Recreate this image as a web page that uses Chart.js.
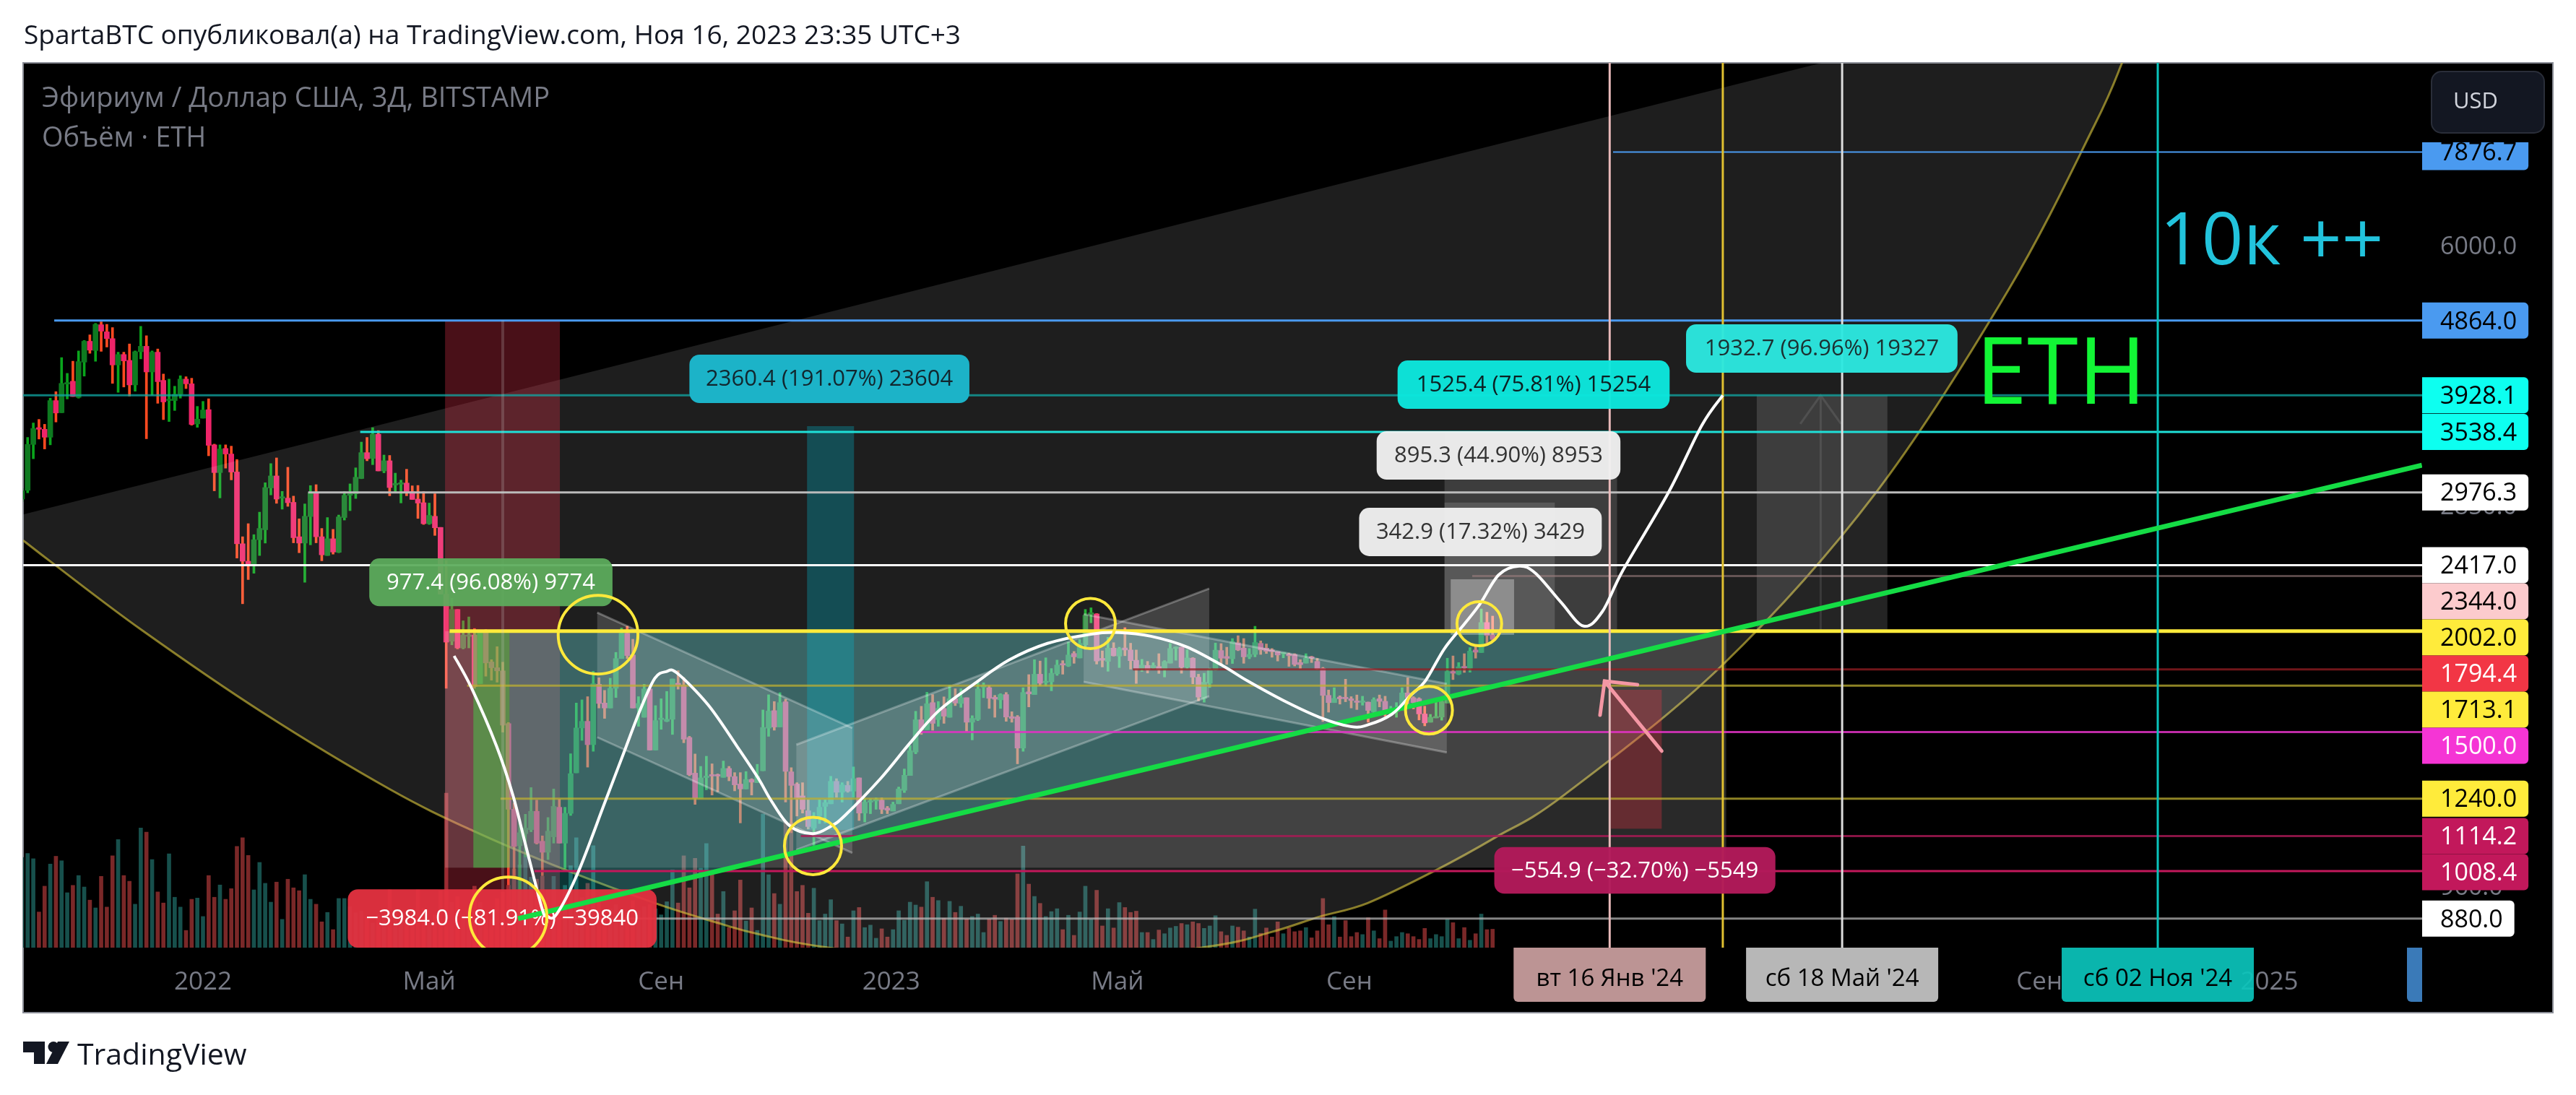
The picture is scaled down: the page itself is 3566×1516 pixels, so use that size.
<!DOCTYPE html>
<html><head><meta charset="utf-8"><title>ETH</title>
<style>html,body{margin:0;padding:0;background:#fff;overflow:hidden}canvas{display:block}</style>
<script src="https://cdn.jsdelivr.net/npm/chart.js@4"></script></head><body>
<canvas id="c" width="3566" height="1516"></canvas>
<script>
const firstBar = -32; // 3-day bars, 0 = bar at the 1 Jan 2022 tick
const candleOpen = [
2920,2994,3414,3582,3565,3485,3870,3738,4057,4090,
3905,4320,4585,4465,4807,4710,4620,4285,4415,4341,
4047,4450,4520,4200,4444,4100,3870,3870,3940,4115,
4060,3620,3680,3771,3410,3150,3375,3322,3155,2570,
2445,2425,2600,2675,3015,3120,2928,2928,2893,2622,
2575,2778,2976,2622,2485,2607,2508,2770,2952,2965,
3097,3335,3280,3515,3165,3258,3040,3047,3057,2983,
2920,2890,2722,2780,2693,2225,1945,2130,1908,1972,
1980,1723,1995,1833,1803,1787,1537,1203,1084,1122,
1135,1196,1098,1064,1112,1210,1092,1189,1335,1518,
1547,1447,1720,1630,1607,1700,1851,1990,1870,1607,
1565,1697,1425,1555,1547,1556,1725,1715,1477,1334,
1242,1317,1328,1328,1318,1352,1321,1293,1275,1310,
1298,1343,1517,1595,1522,1636,1339,1293,1250,1198,
1140,1181,1213,1222,1303,1263,1288,1267,1316,1190,
1228,1232,1235,1207,1197,1222,1270,1325,1417,1554,
1510,1632,1555,1605,1565,1650,1628,1655,1543,1555,
1706,1703,1657,1645,1670,1568,1567,1433,1683,1670,
1770,1728,1732,1772,1822,1812,1878,1854,1925,2100,
2103,1852,1836,1907,1864,1908,1897,1842,1798,1815,
1802,1809,1795,1827,1905,1912,1806,1853,1755,1652,
1725,1792,1894,1862,1850,1936,1907,1860,1873,1933,
1907,1897,1888,1876,1875,1873,1830,1827,1860,1836,
1800,1666,1632,1658,1657,1650,1638,1633,1634,1590,
1650,1638,1595,1590,1603,1678,1655,1650,1580,1543,
1562,1566,1630,1784,1770,1810,1800,1897,1883,2052,1980];
const candleHigh = [
3010,3483,3630,3667,3616,3897,3970,4376,4183,4331,
4460,4595,4670,4825,4847,4812,4768,4444,4444,4550,
4460,4785,4658,4460,4485,4175,4115,4032,4155,4143,
4125,3806,3861,3890,3417,3410,3410,3397,3270,2622,
2722,2638,2813,3060,3232,3285,2985,3198,2945,2760,
2880,3035,3043,2685,2770,2678,2790,2983,3050,3193,
3437,3483,3582,3552,3312,3308,3145,3083,3180,3033,
3036,2983,2887,2965,2693,2450,2199,2130,2062,2085,
2017,2006,2011,1845,1915,1832,1542,1225,1168,1186,
1280,1235,1115,1175,1275,1238,1210,1410,1630,1645,
1660,1785,1752,1690,1750,1884,2020,2030,1956,1660,
1720,1697,1618,1650,1685,1746,1788,1753,1482,1409,
1360,1400,1370,1331,1381,1360,1336,1336,1340,1313,
1368,1598,1669,1637,1679,1648,1355,1298,1298,1236,
1192,1236,1236,1322,1313,1298,1303,1358,1316,1240,
1240,1243,1243,1213,1228,1282,1350,1443,1592,1615,
1681,1670,1637,1659,1715,1698,1698,1655,1572,1733,
1727,1713,1666,1674,1680,1590,1573,1703,1768,1845,
1838,1855,1799,1843,1840,1940,1889,1955,2130,2140,
2105,1892,1967,1937,1912,2022,1934,1897,1847,1836,
1829,1877,1840,1933,1915,1912,1898,1856,1770,1775,
1801,1935,1932,1912,1960,1976,1960,1905,2030,1947,
1930,1905,1888,1884,1880,1877,1845,1877,1864,1852,
1805,1692,1703,1664,1745,1660,1668,1662,1635,1655,
1668,1662,1615,1632,1703,1752,1660,1655,1615,1578,
1635,1644,1853,1865,1830,1877,1910,1925,2133,2113,2090];
const candleLow = [
2900,2973,3277,3467,3370,3410,3640,3738,3888,3915,
3897,4150,4430,4330,4455,4510,4065,3962,4023,3920,
3975,4360,3470,3930,3840,3665,3645,3762,3897,4005,
3607,3585,3680,3305,2990,2930,3190,3085,2467,2165,
2320,2362,2485,2575,2955,2885,2837,2860,2577,2505,
2302,2562,2577,2448,2485,2495,2505,2750,2825,2925,
3095,3258,3222,3165,3148,2948,2983,2888,2948,2917,
2763,2716,2716,2632,2225,1700,1925,1903,1903,1908,
1700,1723,1760,1740,1730,1500,969,990,880,1050,
1128,1089,995,1042,1092,1092,1015,1182,1335,1465,
1357,1420,1607,1560,1607,1656,1851,1851,1607,1525,
1565,1425,1425,1512,1545,1490,1696,1455,1324,1220,
1242,1272,1253,1265,1318,1305,1268,1157,1275,1253,
1298,1343,1482,1508,1522,1228,1125,1180,1190,1137,
1085,1155,1157,1222,1245,1228,1263,1245,1165,1160,
1188,1203,1188,1188,1197,1222,1262,1325,1410,1490,
1510,1508,1525,1538,1565,1618,1610,1503,1467,1550,
1655,1605,1565,1605,1547,1543,1370,1420,1612,1670,
1712,1712,1688,1764,1770,1809,1826,1854,1900,2050,
1822,1807,1785,1864,1804,1866,1796,1724,1784,1776,
1799,1774,1756,1827,1842,1775,1797,1722,1640,1634,
1704,1790,1825,1820,1825,1893,1826,1850,1860,1873,
1878,1858,1838,1855,1810,1812,1798,1827,1830,1794,
1546,1588,1632,1625,1636,1607,1600,1620,1543,1580,
1612,1570,1580,1565,1597,1626,1603,1553,1527,1543,
1562,1552,1630,1743,1767,1779,1780,1853,1883,1936,1945];
const candleClose = [
2990,3414,3573,3565,3485,3870,3735,4065,4075,3915,
4326,4585,4470,4812,4720,4620,4285,4415,4335,4047,
4450,4520,4200,4444,4085,3855,3885,3940,4115,4060,
3615,3670,3767,3405,3150,3370,3322,3155,2570,2445,
2425,2600,2685,3018,3120,2920,2935,2890,2615,2575,
2780,2976,2622,2490,2607,2510,2775,2952,2960,3108,
3335,3277,3515,3165,3258,3018,3054,3060,2983,2917,
2887,2722,2787,2690,2225,1940,2130,1908,1980,1980,
1708,1995,1828,1803,1787,1530,1203,1082,1125,1140,
1196,1092,1064,1130,1213,1092,1189,1332,1518,1547,
1447,1723,1628,1607,1700,1851,1990,1867,1607,1628,
1697,1425,1550,1560,1556,1746,1715,1470,1328,1242,
1316,1323,1323,1323,1352,1321,1290,1275,1310,1300,
1323,1520,1593,1522,1632,1341,1288,1240,1203,1145,
1170,1210,1226,1303,1263,1290,1267,1313,1190,1228,
1231,1237,1203,1200,1220,1275,1326,1422,1554,1510,
1627,1538,1605,1570,1650,1630,1655,1543,1560,1697,
1714,1652,1648,1670,1566,1560,1433,1680,1673,1770,
1725,1733,1775,1817,1817,1870,1860,1933,2095,2110,
1838,1842,1907,1866,1905,1897,1840,1796,1817,1792,
1815,1795,1835,1905,1912,1806,1854,1755,1658,1730,
1794,1896,1853,1852,1942,1897,1860,1873,1938,1897,
1890,1888,1870,1882,1866,1820,1819,1853,1853,1797,
1666,1632,1652,1650,1650,1642,1633,1640,1596,1646,
1638,1596,1601,1603,1678,1655,1632,1580,1540,1565,
1566,1637,1784,1775,1808,1802,1891,1885,2052,1977,1955];
const volumeK = [
220,230,217,87,150,204,223,212,134,152,
176,148,116,97,174,99,224,264,176,162,
106,292,282,215,136,109,229,123,99,42,
118,121,76,176,123,153,118,144,247,268,
225,141,208,157,111,160,69,167,146,139,
178,118,106,63,86,44,120,120,100,85,
90,75,60,80,70,141,90,70,60,75,
141,95,60,80,139,377,110,124,80,90,
150,110,85,70,120,136,152,192,202,227,
172,167,174,140,174,102,152,200,268,122,
157,249,112,80,95,105,90,85,115,90,
100,105,95,80,112,190,109,224,146,218,
194,254,182,82,137,49,90,165,65,97,
42,326,178,132,106,308,305,137,152,84,
145,66,82,117,66,58,26,90,98,49,
55,23,46,26,44,90,67,111,104,99,
161,123,115,72,113,86,101,70,76,82,
37,70,79,64,72,69,180,248,155,125,
108,76,88,95,44,79,30,87,150,69,
140,53,95,48,110,98,86,89,37,37,
20,43,34,48,52,59,56,63,59,47,
53,78,39,30,53,50,41,26,94,35,
48,26,63,34,48,39,41,49,24,41,
120,56,76,26,66,27,37,32,73,41,
22,92,16,27,37,34,27,20,47,22,
32,27,69,61,22,49,18,34,82,44,45];

const xTickValues = [0,40,81,121.67,161.67,202.67,324.67,365.33];
const xTickLabels = ['2022','Май','Сен','2023','Май','Сен','Сен','2025'];
const yTickValues = [6000,2850,960];

const levelPrices = [7876.7,4864,3928.1,3538.4,2976.3,2417,2344,2002,1794.4,1713.1,1500,1240,1114.2,1008.4,880];
const levelStartBars = [249.3,-26.3,-32,27.8,18.6,-32,224.4,43.6,164.4,46.7,126.3,52.6,105.7,58.6,55.7];
const levelLineColors = ['#4a9af0','#4a9af0','rgba(16,170,165,0.75)','#1fe0d8','#bbbbbb','#ffffff','rgba(160,130,130,0.55)','#ffeb3b','rgba(150,30,35,0.75)','rgba(190,175,50,0.75)','rgba(225,50,195,0.85)','rgba(190,175,50,0.75)','rgba(170,25,85,0.8)','#c2185b','rgba(190,190,190,0.7)'];
const levelLineWidths = [2,3,3,3,3,3,3,5,3,3,3,3,3,3,3];
const tagFills = ['#4a9af0','#4a9af0','#0dfff0','#0dfff0','#ffffff','#ffffff','#fccbcd','#ffeb3b','#f23645','#ffeb3b','#f535d5','#ffeb3b','#c2185b','#c2185b','#ffffff'];
const tagInks = ['#000','#000','#000','#000','#000','#000','#000','#000','#fff','#000','#fff','#000','#fff','#fff','#000'];

const fanEdgeBars = [-31.8,286.2,339.3];
const fanEdgePrices = [2795,10163,10163];
const arcBars = [-31.8,-26,-10.7,10.5,33.1,48,63.7,79.9,91.8,98.2,110.1,143,177,188.9,197.4,205.9,217.9,228.5,240.7,268.7,295.8,319.3,334.5,339.3];
const arcPrices = [2595,2414,2005,1587,1273,1129,1014,920,866,842,811,764,811,847,885,920,1010,1110,1254,1819,2976,5325,8527,10163];

const wavyBars = [44.4,47.5,51.9,54.8,57,59.9,60.8,62.5,66.3,71,74.3,77.4,79.9,81.9,83.8,89.3,94.4,98.2,100.4,103.7,107.8,111,113.5,119.9,125,130.1,136.5,142.5,149.3,157,162,167.6,174,180.3,184.7,191,197.4,202.9,205.9,210.2,213.5,216.1,219.5,223,225.8,229.1,232.7,235.6,240.1,244.1,247.4,251.1,259.1,265,268.7];
const wavyPrices = [1865,1700,1441,1252,1089,908,887,891,1004,1224,1408,1605,1750,1783,1776,1622,1441,1314,1235,1148,1122,1146,1182,1316,1454,1595,1725,1843,1933,1985,1994,1973,1913,1813,1736,1642,1565,1524,1531,1579,1666,1736,1905,2043,2165,2352,2411,2362,2174,2031,2117,2386,2976,3606,3928];

const trendBars = [55.7,392.3];
const trendPrices = [880,3217];

// rectangles: bar from, bar to, price top, price bottom
const redBand = [42.8,63.1,4864,810];
const greyBlock = [42.8,269.3,2002,1018];
const greenBlock = [47.8,54.2,2002,1018];
const tealBand = [106.8,115.1,3597,1134];
const tealLeftBar = 54.2;
const tealRightBar = 269.3;
const measureBars0 = [220.6,219.5,219.5,274.7,248.9];
const measureBars1 = [231.8,239,250,297.8,257.9];
const measureTops = [2322,2891,3538,3928,1693];
const measureBottoms = [1981,2002,2002,2002,1138];

// channels: barA, barB, upperA, upperB, lowerA, lowerB
const channelOne = [69.7,114.8,2111,1518,1478,1062];
const channelTwo = [104.9,177.9,1447,2261,1071,1662];
const channelThree = [155.7,219.9,2102,1722,1732,1415];

const verticalBars = [53,248.7,268.7,289.8,345.6];
const verticalColors = ['rgba(200,200,200,0.22)','#e8b9b9','#e0c030','#dddddd','#0ac4bc'];

const ringBar0 = [62.8,47.1,102.8,152.5,212.6,221.7];
const ringBar1 = [76.9,60.8,112.9,161.3,220.9,229.6];
const ringTop = [2218,991,1176,2198,1710,2178];
const ringBottom = [1771,790,998,1904,1492,1920];

// arrow: tail, tip, head wings
const arrowBars = [257.9,247.8,247,253.6];
const arrowPrices = [1421,1735,1575,1718];

const noteTexts = ['2360.4 (191.07%) 23604','977.4 (96.08%) 9774','−3984.0 (−81.91%) −39840','342.9 (17.32%) 3429','895.3 (44.90%) 8953','1525.4 (75.81%) 15254','1932.7 (96.96%) 19327','−554.9 (−32.70%) −5549'];
const noteBar0 = [86,29.4,25.6,204.4,207.5,211.2,262.2,228.3];
const noteBar1 = [135.5,72.4,80.2,247.3,250.6,259.3,310.2,278];
const noteTop = [4413,2465,957,2848,3546,4340,4813,1080];
const noteBottom = [3842,2150,810,2481,3087,3779,4191,945];
const noteFills = ['#1cb3c8','rgba(92,172,92,0.94)','rgba(229,50,64,0.95)','rgba(240,240,240,0.96)','rgba(240,240,240,0.96)','rgba(12,232,222,0.96)','rgba(44,232,224,0.96)','rgba(178,26,90,0.97)'];
const noteInks = ['#12262e','#fff','#fff','#333','#333','#0d1f22','#1c2f30','#fff'];

const dateTags = ["вт 16 Янв '24","сб 18 Май '24","сб 02 Ноя '24"];
const dateTagBars = [248.7,289.8,345.6];
const dateTagFills = ['rgba(196,154,154,0.96)','rgba(190,190,190,0.96)','rgba(11,196,188,0.92)'];

const FONT = '"Open Sans"';
const bars = candleOpen.map((_, k) => firstBar + k);
const isUp = candleOpen.map((o, k) => candleClose[k] >= o);
const wickData = bars.map((x, k) => ({x, y: [candleLow[k], candleHigh[k]]}));
const bodyData = bars.map((x, k) => ({x, y: [candleOpen[k], candleClose[k]]}));
const volData = bars.map((x, k) => ({x, y: volumeK[k]}));

function rr(ctx, x, y, w, h, r) { ctx.beginPath(); ctx.roundRect(x, y, w, h, r); }
function spline(ctx, pts) {
  ctx.lineTo(pts[0][0], pts[0][1]);
  for (let i = 0; i < pts.length - 1; i++) {
    const p0 = pts[Math.max(i - 1, 0)], p1 = pts[i], p2 = pts[i + 1], p3 = pts[Math.min(i + 2, pts.length - 1)];
    ctx.bezierCurveTo(p1[0] + (p2[0] - p0[0]) / 6, p1[1] + (p2[1] - p0[1]) / 6, p2[0] - (p3[0] - p1[0]) / 6, p2[1] - (p3[1] - p1[1]) / 6, p2[0], p2[1]);
  }
}

const drawingPlugin = {
  id: 'drawings',
  beforeDraw(chart) {
    const c = chart.ctx;
    c.save();
    c.fillStyle = '#fff'; c.fillRect(0, 0, 3566, 1516);
    c.fillStyle = '#000'; c.fillRect(32, 87, 3502, 1315);
    c.strokeStyle = '#8a8d96'; c.lineWidth = 2; c.strokeRect(32, 87, 3502, 1315);
    c.restore();
  },
  afterDatasetsDraw(chart) {
    const c = chart.ctx, sx = chart.scales.x, sy = chart.scales.y, a = chart.chartArea;
    const X = v => sx.getPixelForValue(v), Y = v => sy.getPixelForValue(v);
    const rect = (r, fill) => { c.fillStyle = fill; c.fillRect(X(r[0]), Y(r[2]), X(r[1]) - X(r[0]), Y(r[3]) - Y(r[2])); };
    c.save();
    c.beginPath(); c.rect(a.left, a.top, a.right - a.left, a.bottom - a.top); c.clip();

    // fan
    const arcPts = arcBars.map((b, k) => [X(b), Y(arcPrices[k])]);
    c.beginPath();
    c.moveTo(X(fanEdgeBars[0]), Y(fanEdgePrices[0]));
    c.lineTo(X(fanEdgeBars[1]), Y(fanEdgePrices[1]));
    c.lineTo(X(fanEdgeBars[2]), Y(fanEdgePrices[2]));
    spline(c, arcPts.slice().reverse());
    c.closePath();
    c.fillStyle = 'rgba(255,255,255,0.118)'; c.fill();
    c.beginPath(); c.moveTo(arcPts[0][0], arcPts[0][1]); spline(c, arcPts);
    c.strokeStyle = 'rgba(220,200,60,0.6)'; c.lineWidth = 3; c.stroke();

    rect(redBand, 'rgba(242,54,80,0.3)');
    rect(greyBlock, 'rgba(255,255,255,0.16)');
    rect(greenBlock, 'rgba(66,208,71,0.5)');

    // teal wedge above the trend line
    const slope = (Math.log(trendPrices[1]) - Math.log(trendPrices[0])) / (trendBars[1] - trendBars[0]);
    const trendAt = b => trendPrices[0] * Math.exp(slope * (b - trendBars[0]));
    c.beginPath();
    c.moveTo(X(tealLeftBar), Y(2002)); c.lineTo(X(tealRightBar), Y(2002));
    c.lineTo(X(tealRightBar), Y(trendAt(tealRightBar))); c.lineTo(X(tealLeftBar), Y(trendAt(tealLeftBar)));
    c.closePath(); c.fillStyle = 'rgba(40,190,190,0.28)'; c.fill();

    rect(tealBand, 'rgba(0,188,212,0.3)');

    // channels
    for (const ch of [channelOne, channelTwo, channelThree]) {
      c.beginPath();
      c.moveTo(X(ch[0]), Y(ch[2])); c.lineTo(X(ch[1]), Y(ch[3])); c.lineTo(X(ch[1]), Y(ch[5])); c.lineTo(X(ch[0]), Y(ch[4])); c.closePath();
      c.fillStyle = 'rgba(255,255,255,0.16)'; c.fill();
      c.strokeStyle = 'rgba(255,255,255,0.28)'; c.lineWidth = 3;
      c.beginPath(); c.moveTo(X(ch[0]), Y(ch[2])); c.lineTo(X(ch[1]), Y(ch[3])); c.stroke();
      c.beginPath(); c.moveTo(X(ch[0]), Y(ch[4])); c.lineTo(X(ch[1]), Y(ch[5])); c.stroke();
    }

    // measure boxes
    measureBars0.forEach((b, k) => rect([b, measureBars1[k], measureTops[k], measureBottoms[k]], k === 4 ? 'rgba(242,54,69,0.3)' : k === 0 ? 'rgba(255,255,255,0.32)' : 'rgba(255,255,255,0.14)'));
    // arrow in last box
    c.strokeStyle = 'rgba(255,255,255,0.1)'; c.lineWidth = 3;
    c.beginPath(); c.moveTo(X(286), Y(2002)); c.lineTo(X(286), Y(3928));
    c.moveTo(X(282.4), Y(3620)); c.lineTo(X(286), Y(3928)); c.lineTo(X(289.6), Y(3620)); c.stroke();

    // levels
    levelPrices.forEach((p, k) => {
      c.strokeStyle = levelLineColors[k]; c.lineWidth = levelLineWidths[k];
      c.beginPath(); c.moveTo(X(levelStartBars[k]), Y(p)); c.lineTo(a.right, Y(p)); c.stroke();
    });
    verticalBars.forEach((b, k) => {
      c.strokeStyle = verticalColors[k]; c.lineWidth = k === 0 ? 4 : 3;
      c.beginPath();
      c.moveTo(X(b), k === 0 ? Y(4864) : a.top); c.lineTo(X(b), a.bottom); c.stroke();
    });

    // measure notes
    c.textAlign = 'center'; c.textBaseline = 'middle';
    noteTexts.forEach((t, k) => {
      const x0 = X(noteBar0[k]), x1 = X(noteBar1[k]), y0 = Y(noteTop[k]), y1 = Y(noteBottom[k]);
      c.fillStyle = noteFills[k]; rr(c, x0, y0, x1 - x0, y1 - y0, 14); c.fill();
      c.fillStyle = noteInks[k]; c.font = `31px ${FONT}`;
      c.fillText(t, (x0 + x1) / 2, (y0 + y1) / 2 + 1);
    });

    // arrow
    c.strokeStyle = '#f497a4'; c.lineWidth = 5; c.lineCap = 'round';
    c.beginPath(); c.moveTo(X(arrowBars[0]), Y(arrowPrices[0])); c.lineTo(X(arrowBars[1]), Y(arrowPrices[1])); c.stroke();
    c.beginPath(); c.moveTo(X(arrowBars[2]), Y(arrowPrices[2])); c.lineTo(X(arrowBars[1]), Y(arrowPrices[1])); c.lineTo(X(arrowBars[3]), Y(arrowPrices[3])); c.stroke();
    c.lineCap = 'butt';

    // big texts
    c.textAlign = 'left'; c.textBaseline = 'alphabetic';
    c.fillStyle = '#12f535'; c.font = `128px ${FONT}`; c.fillText('ETH', 2735, 559);
    c.fillStyle = '#22c3dc'; c.font = `101px ${FONT}`; c.fillText('10к ++', 2990, 366);

    // trend and wave
    c.strokeStyle = '#15dc45'; c.lineWidth = 7;
    c.beginPath(); c.moveTo(X(trendBars[0]), Y(trendPrices[0])); c.lineTo(X(trendBars[1]), Y(trendPrices[1])); c.stroke();
    c.strokeStyle = '#ffffff'; c.lineWidth = 4;
    const wave = wavyBars.map((b, k) => [X(b), Y(wavyPrices[k])]);
    c.beginPath(); c.moveTo(wave[0][0], wave[0][1]); spline(c, wave); c.stroke();

    // rings
    c.strokeStyle = '#ffe93b'; c.lineWidth = 4;
    ringBar0.forEach((b, k) => {
      const x0 = X(b), x1 = X(ringBar1[k]), y0 = Y(ringTop[k]), y1 = Y(ringBottom[k]);
      c.beginPath(); c.ellipse((x0 + x1) / 2, (y0 + y1) / 2, (x1 - x0) / 2, (y1 - y0) / 2, 0, 0, 7); c.stroke();
    });
    c.restore();

    // price tags
    c.save();
    c.textBaseline = 'middle'; c.textAlign = 'left'; c.font = `34px ${FONT}`;
    let last = -1e9;
    levelPrices.forEach((p, k) => {
      const yc = Math.max(Y(p), last + 50); last = yc;
      const txt = p.toFixed(1), w = c.measureText(txt).width;
      c.fillStyle = tagFills[k]; rr(c, a.right, yc - 25, 25 + w + 16, 50, [0, 6, 6, 0]); c.fill();
      c.fillStyle = tagInks[k]; c.fillText(txt, a.right + 25, yc + 2);
    });
    // cover above the first tag and currency button
    c.fillStyle = '#000'; c.fillRect(a.right, 88, 3533 - a.right, 109);
    c.fillStyle = '#131722'; c.strokeStyle = '#2a2e39'; c.lineWidth = 2; rr(c, 3366, 99, 156, 85, 14); c.fill(); c.stroke();
    c.fillStyle = '#d1d4dc'; c.font = `31px ${FONT}`; c.fillText('USD', 3396, 141);

    // date tags
    c.textAlign = 'center';
    dateTags.forEach((t, k) => {
      const xc = X(dateTagBars[k]);
      c.fillStyle = dateTagFills[k]; rr(c, xc - 133, a.bottom, 266, 75, [0, 0, 6, 6]); c.fill();
      c.fillStyle = '#000'; c.font = `33px ${FONT}`; c.fillText(t, xc, a.bottom + 44);
    });
    c.fillStyle = '#3a7ab8'; rr(c, 3332, a.bottom, 21, 75, [0, 0, 0, 6]); c.fill();

    // legend and page texts
    c.textAlign = 'left';
    c.fillStyle = '#787b86'; c.font = `38px ${FONT}`;
    c.fillText('Эфириум / Доллар США, 3Д, BITSTAMP', 58, 137);
    c.fillText('Объём · ETH', 58, 192);
    c.fillStyle = '#131722'; c.font = `37px ${FONT}`;
    c.fillText('SpartaBTC опубликовал(а) на TradingView.com, Ноя 16, 2023 23:35 UTC+3', 33, 50);
    c.font = `41px ${FONT}`; c.fillText('TradingView', 107, 1462);
    // logo
    c.translate(32, 1442);
    c.beginPath(); c.moveTo(0, 0); c.lineTo(30, 0); c.lineTo(30, 31); c.lineTo(15, 31); c.lineTo(15, 15); c.lineTo(0, 15); c.closePath(); c.fill();
    c.beginPath(); c.arc(42, 7.5, 7.5, 0, 7); c.fill();
    c.beginPath(); c.moveTo(64, 0); c.lineTo(48, 31); c.lineTo(32, 31); c.lineTo(48, 0); c.closePath(); c.fill();
    c.restore();
  }
};

new Chart(document.getElementById('c'), {
  type: 'bar',
  plugins: [drawingPlugin],
  data: { datasets: [
    { label: 'Volume', yAxisID: 'v', data: volData, barThickness: 5, order: 3, grouped: false,
      backgroundColor: isUp.map(u => u ? '#17504c' : '#7a2828') },
    { label: 'Wick', yAxisID: 'y', data: wickData, barThickness: 3, order: 2, grouped: false,
      backgroundColor: isUp.map(u => u ? '#0aa51c' : '#ff4a20') },
    { label: 'Body', yAxisID: 'y', data: bodyData, barThickness: 7, order: 1, grouped: false, minBarLength: 2,
      backgroundColor: isUp.map(u => u ? '#0e7a20' : '#ee2469') }
  ]},
  options: {
    responsive: false, animation: false, devicePixelRatio: 1,
    layout: { padding: { left: 32, top: 87, right: 32, bottom: 114 } },
    plugins: { legend: { display: false }, tooltip: { enabled: false } },
    datasets: { bar: { grouped: false } },
    scales: {
      x: { type: 'linear', offset: false, min: -31.8, max: 392.34,
        grid: { display: false, offset: false, drawTicks: false }, border: { display: false },
        afterBuildTicks: s => { s.ticks = xTickValues.map(value => ({ value })); },
        afterFit: s => { s.height = 90; },
        ticks: { autoSkip: false, maxRotation: 0, padding: 27, color: '#787b86', font: { family: 'Open Sans', size: 35 },
          callback: v => { const k = xTickValues.indexOf(v); return k < 0 ? '' : xTickLabels[k]; } } },
      y: { type: 'logarithmic', position: 'right', min: 810, max: 10163,
        grid: { display: false, drawTicks: false }, border: { display: false },
        afterBuildTicks: s => { s.ticks = yTickValues.map(value => ({ value })); },
        afterFit: s => { s.width = 181; },
        ticks: { autoSkip: false, padding: 25, color: '#787b86', font: { family: 'Open Sans', size: 34 },
          callback: v => Number(v).toFixed(1) } },
      v: { type: 'linear', display: false, min: 0, max: 2159, position: 'left' }
    }
  }
});
</script></body></html>
